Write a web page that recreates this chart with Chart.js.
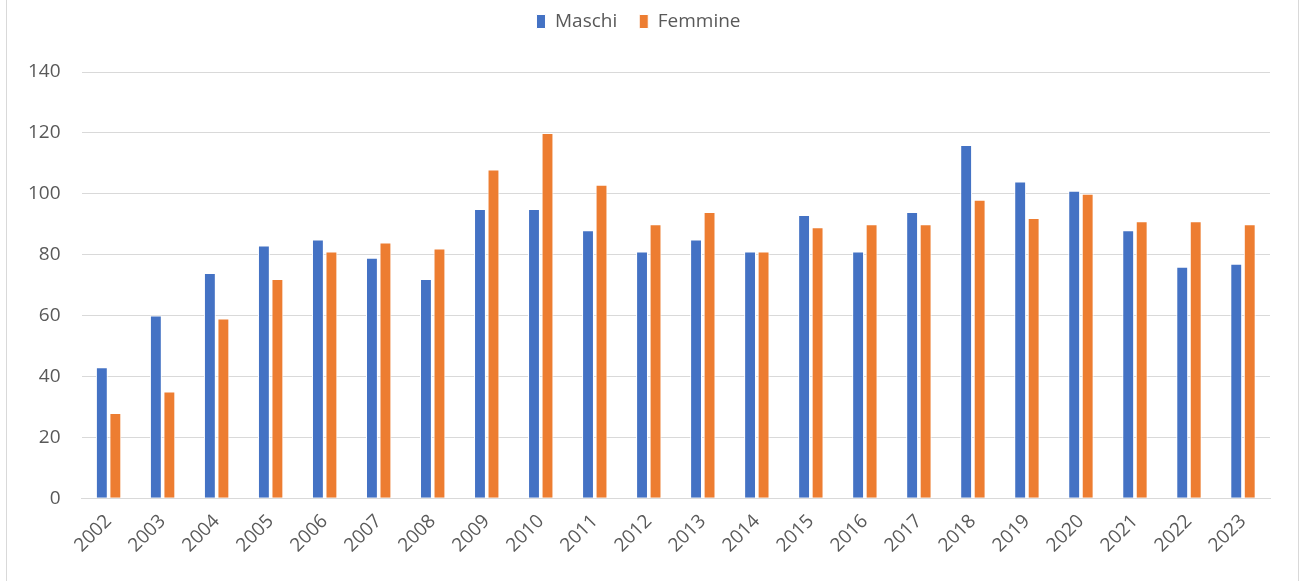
<!DOCTYPE html>
<html>
<head>
<meta charset="utf-8">
<script src="https://cdn.jsdelivr.net/npm/chart.js@4"></script>
<style>
	body { margin: 0; background: #fff; }
	#frame { position: absolute; left: 6px; top: -1px; width: 1291px; height: 590px; border: 1px solid #d9d9d9; }
	#wrap { position: absolute; left: 0; top: 0; width: 1301px; height: 581px; }
</style>
</head>
<body>
<div id="frame"></div>
<div id="wrap"><canvas id="chart_1" width="1301" height="581"></canvas></div>
<script>
var years = ["2002","2003","2004","2005","2006","2007","2008","2009","2010","2011","2012",
	"2013","2014","2015","2016","2017","2018","2019","2020","2021","2022","2023"];
var maschi = [43, 60, 74, 83, 85, 79, 72, 95, 95, 88, 81, 85, 81, 93, 81, 94, 116, 104, 101, 88, 76, 77];
var femmine = [28, 35, 59, 72, 81, 84, 82, 108, 120, 103, 90, 94, 81, 89, 90, 90, 98, 92, 100, 91, 91, 90];
var yTicks = [0, 20, 40, 60, 80, 100, 120, 140];

var textColor = "#595959";
var fontFamily = "'Open Sans', sans-serif";

// push the plot area down below the legend
var legendSpace = {
	id : 'legendSpace',
	beforeInit : function(chart) {
		var fit = chart.legend.fit;
		chart.legend.fit = function() {
			fit.bind(chart.legend)();
			this.height += 31;
		};
	}
};

var data = {
	labels : years,
	datasets : [ {
		label : "Maschi",
		data : maschi,
		backgroundColor : "#4472C4",
		borderColor : "#ffffff",
		borderWidth : 1,
		categoryPercentage : 0.5,
		barPercentage : 0.88
	}, {
		label : "Femmine",
		data : femmine,
		backgroundColor : "#ED7D31",
		borderColor : "#ffffff",
		borderWidth : 1,
		categoryPercentage : 0.5,
		barPercentage : 0.88
	} ]
};

var option = {
	responsive : false,
	animation : false,
	layout : {
		padding : { left : 7, right : 31, top : -10, bottom : 20 }
	},
	plugins : {
		legend : {
			position : 'top',
			labels : {
				boxWidth : 9,
				boxHeight : 14,
				padding : 22,
				color : textColor,
				font : { family : fontFamily, size : 19 }
			}
		},
		tooltip : { enabled : false }
	},
	scales : {
		x : {
			grid : { display : false },
			border : { color : "#d9d9d9" },
			ticks : {
				color : textColor,
				font : { family : fontFamily, size : 19 },
				minRotation : 45,
				maxRotation : 45,
				padding : 4
			}
		},
		y : {
			min : 0,
			max : 140,
			afterBuildTicks : function(axis) {
				axis.ticks = yTicks.map(function(v) { return { value : v }; });
			},
			grid : { color : "#d9d9d9", lineWidth : 1, drawTicks : false },
			border : { display : false },
			ticks : {
				color : textColor,
				font : { family : fontFamily, size : 19 },
				padding : 21
			}
		}
	}
};

new Chart('chart_1', {
	type : 'bar',
	data : data,
	options : option,
	plugins : [ legendSpace ]
});
</script>
</body>
</html>
